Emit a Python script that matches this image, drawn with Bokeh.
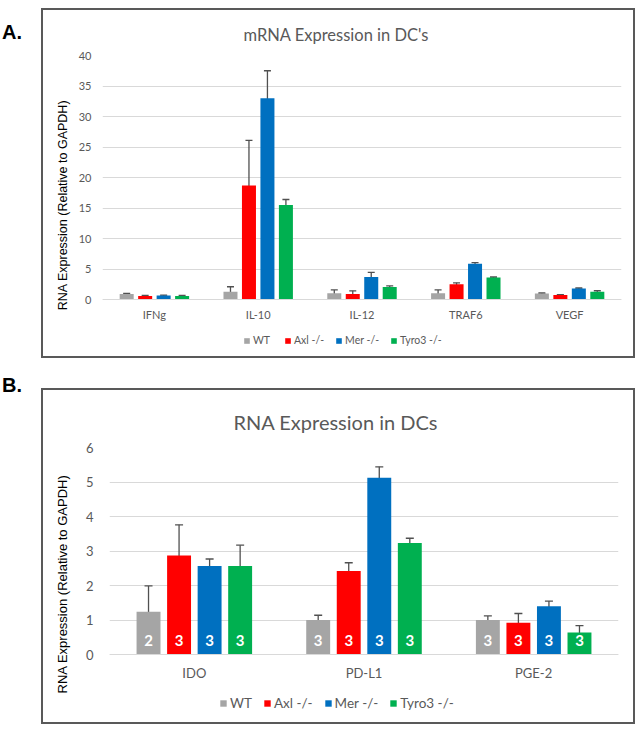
from bokeh.plotting import figure
from bokeh.models import (FactorRange, Range1d, ColumnDataSource, Whisker, TeeHead,
                          Legend, LegendItem, Div)
from bokeh.transform import dodge
from bokeh.layouts import column, row
from bokeh.core.properties import value
from bokeh.embed import file_html
from bokeh.resources import INLINE

# ---------------- data ----------------
series = ["WT", "Axl -/-", "Mer -/-", "Tyro3 -/-"]
colors = ["#A5A5A5", "#FF0000", "#0070C0", "#00B050"]

categories_a = ["IFNg", "IL-10", "IL-12", "TRAF6", "VEGF"]
wt_a = [0.93, 1.3, 1.04, 1.04, 0.98]
wt_a_err = [0.1, 0.8, 0.55, 0.55, 0.1]
axl_a = [0.6, 18.7, 0.93, 2.5, 0.77]
axl_a_err = [0.1, 7.4, 0.5, 0.25, 0.05]
mer_a = [0.65, 33.0, 3.72, 5.86, 1.8]
mer_a_err = [0.08, 4.5, 0.75, 0.2, 0.1]
tyro3_a = [0.6, 15.5, 2.08, 3.6, 1.3]
tyro3_a_err = [0.1, 0.9, 0.15, 0.1, 0.15]

categories_b = ["IDO", "PD-L1", "PGE-2"]
wt_b = [1.24, 1.0, 1.0]
wt_b_err = [0.75, 0.14, 0.12]
axl_b = [2.87, 2.42, 0.92]
axl_b_err = [0.89, 0.24, 0.27]
mer_b = [2.57, 5.12, 1.4]
mer_b_err = [0.2, 0.32, 0.15]
tyro3_b = [2.57, 3.23, 0.64]
tyro3_b_err = [0.6, 0.14, 0.2]
n_wt_b = ["2", "3", "3"]
n_axl_b = ["3", "3", "3"]
n_mer_b = ["3", "3", "3"]
n_tyro3_b = ["3", "3", "3"]

TXT = "#595959"
GRID = "#D9D9D9"
CAL = "Lato"
ARIAL = "Liberation Sans"


def make_panel(cats, vals, errs, ns, ymin, ymax, ystep, W, H, frame, bar_w, pitch,
               title, title_size, title_off, title_standoff, tick_size,
               legend_xy, legend_size, glyph, ylabel_size, tick_standoff,
               ylabel_standoff, xlabel_standoff, head, margin_top):
    left, top, right, bottom = frame
    p = figure(width=W, height=H, x_range=FactorRange(*cats),
               y_range=Range1d(ymin, ymax),
               output_backend="svg", toolbar_location=None,
               min_border_left=left, min_border_right=W - right,
               min_border_top=top, min_border_bottom=H - bottom)
    p.margin = (margin_top, 0, 0, 0)
    p.styles = {"outline": "2px solid #595959", "outline-offset": "0px"}
    p.outline_line_color = None
    p.title.text = title
    p.title.align = "left"
    p.title.offset = title_off
    p.title.standoff = title_standoff
    p.title.text_font = CAL
    p.title.text_font_style = "normal"
    p.title.text_font_size = title_size
    p.title.text_color = TXT
    p.xgrid.grid_line_color = None
    p.ygrid.grid_line_color = GRID
    p.ygrid.grid_line_width = 1
    p.yaxis.ticker = list(range(0, ymax + 1, ystep))
    p.yaxis.axis_line_color = None
    p.yaxis.major_tick_line_color = None
    p.yaxis.major_tick_out = 0
    p.yaxis.major_tick_in = 0
    p.yaxis.minor_tick_line_color = None
    p.yaxis.major_label_text_font = CAL
    p.yaxis.major_label_text_font_size = tick_size
    p.yaxis.major_label_text_color = TXT
    p.yaxis.major_label_standoff = tick_standoff
    p.yaxis.axis_label = "RNA Expression (Relative to GAPDH)"
    p.yaxis.axis_label_text_font = ARIAL
    p.yaxis.axis_label_text_font_style = "normal"
    p.yaxis.axis_label_text_font_size = ylabel_size
    p.yaxis.axis_label_text_color = "#000000"
    p.yaxis.axis_label_standoff = ylabel_standoff
    # category axis sits on the zero line, inside the (extended) plot area
    p.xaxis.fixed_location = 0
    p.xaxis.axis_line_color = GRID
    p.xaxis.major_tick_line_color = None
    p.xaxis.major_tick_out = 0
    p.xaxis.major_tick_in = 0
    p.xaxis.minor_tick_line_color = None
    p.xaxis.major_label_text_font = CAL
    p.xaxis.major_label_text_font_size = tick_size
    p.xaxis.major_label_text_color = TXT
    p.xaxis.major_label_standoff = xlabel_standoff

    offsets = [(-1.5 + i) * pitch for i in range(4)]
    items = []
    for i, name in enumerate(series):
        src = ColumnDataSource(dict(cat=cats, val=vals[i],
                                    lo=[v - e for v, e in zip(vals[i], errs[i])],
                                    hi=[v + e for v, e in zip(vals[i], errs[i])],
                                    n=ns[i] if ns else [""] * len(cats),
                                    ny=[ymax * 0.07] * len(cats)))
        xs = dodge("cat", offsets[i], range=p.x_range)
        r = p.vbar(x=xs, top="val", width=bar_w, source=src, fill_color=colors[i],
                   line_color=None)
        items.append(LegendItem(label=name, renderers=[r]))
        w = Whisker(base=xs, lower="lo", upper="hi", source=src, line_color="#505050",
                    line_width=1.3,
                    upper_head=TeeHead(size=head, line_color="#505050", line_width=1.3),
                    lower_head=TeeHead(size=head, line_color="#505050", line_width=1.3))
        p.add_layout(w)
        if ns:
            p.text(x=xs, y="ny", text="n", source=src, text_color="white",
                   text_font=value(CAL), text_font_style="bold", text_font_size="15px",
                   text_align="center", text_baseline="middle")

    legend = Legend(items=items, orientation="horizontal", location=legend_xy,
                    label_text_font=CAL, label_text_font_size=legend_size,
                    label_text_color=TXT, glyph_width=glyph, glyph_height=glyph,
                    label_standoff=3, spacing=11, padding=0, margin=0,
                    label_height=14, border_line_color=None, background_fill_alpha=0)
    p.add_layout(legend)
    return p


def letter_div(t, top):
    return Div(text=f'<div style="font-family:\'Liberation Sans\';font-weight:bold;'
                    f'font-size:20px;color:#000;padding-top:{top}px;padding-left:2px;'
                    f'line-height:20px;">{t}</div>',
               width=43, height=50, margin=(0, 0, 0, 0))


# panel A: outer box 41..635 x 8..358
pA = make_panel(categories_a,
                [wt_a, axl_a, mer_a, tyro3_a],
                [wt_a_err, axl_a_err, mer_a_err, tyro3_a_err],
                None, -9.0, 40, 5, 590, 346, (59, 45, 578, 344), 0.135, 0.178,
                "mRNA Expression in DC's", "16.5px", 141, 21, "11px", (141, 7),
                "10.5px", 7, "12.5px", 11, 6, 8, 7, 10)

# panel B: outer box 40..634 x 388..724
pB = make_panel(categories_b,
                [wt_b, axl_b, mer_b, tyro3_b],
                [wt_b_err, axl_b_err, mer_b_err, tyro3_b_err],
                [n_wt_b, n_axl_b, n_mer_b, n_tyro3_b], -1.91, 6, 1, 590, 332,
                (66, 57, 575, 330), 0.141, 0.18,
                "RNA Expression in DCs", "20px", 124, 27, "13px", (110, 9),
                "13.5px", 8, "13px", 16, 13, 10, 8, 34)

layout = column(row(letter_div("A.", 22), pA, spacing=0),
                row(letter_div("B.", 19), pB, spacing=0), spacing=0)
open("out.html", "w").write(file_html(layout, INLINE))
